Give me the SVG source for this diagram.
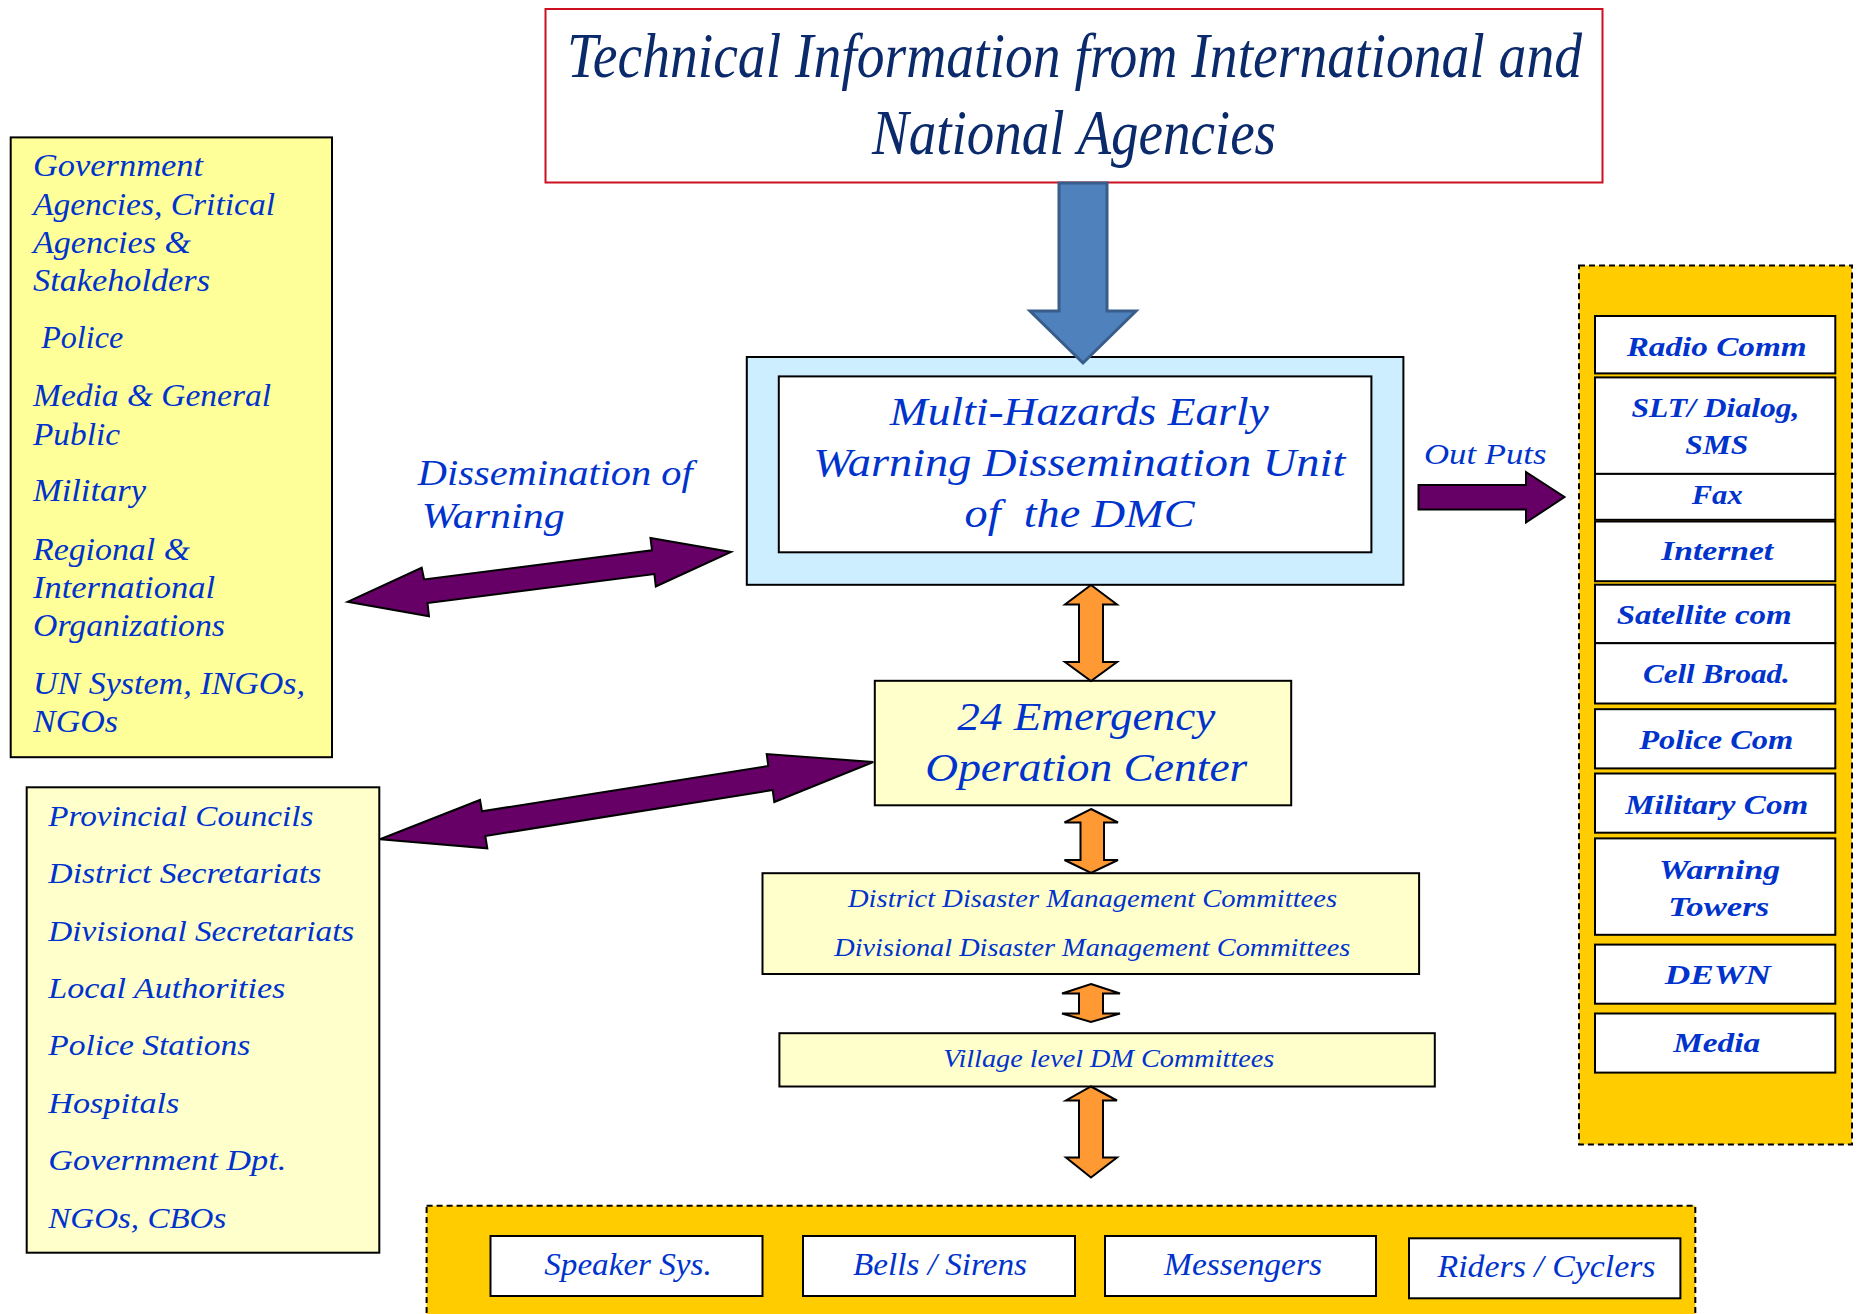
<svg xmlns="http://www.w3.org/2000/svg" width="1860" height="1314" viewBox="0 0 1860 1314">
<style>
.t{font-family:"Liberation Serif","Times New Roman",serif;font-style:italic;fill:#0033cc}
.title{font-family:"Liberation Serif","Times New Roman",serif;font-style:italic;fill:#0b2a6b;font-size:64px}
.bx{stroke:#000;stroke-width:2}
.pl{fill:#ffffcc}
.wh{fill:#fff}
.pur{fill:#660066;stroke:#000;stroke-width:2;stroke-linejoin:miter}
.org{fill:#ff9933;stroke:#000;stroke-width:2}
.dash{fill:#ffcc00;stroke:#000;stroke-width:2;stroke-dasharray:6 4}
.c{text-anchor:middle}
.b{font-weight:bold}
.pre{white-space:pre}
</style>
<rect width="1860" height="1314" fill="#fff"/>

<g id="title">
<rect x="545.5" y="9" width="1057" height="173.5" fill="#fff" stroke="#cc1020" stroke-width="2"/>
<text class="title c" x="1074.5" y="77" textLength="1015" lengthAdjust="spacingAndGlyphs">Technical Information from International and</text>
<text class="title c" x="1074" y="154" textLength="404" lengthAdjust="spacingAndGlyphs">National Agencies</text>
</g>

<g id="stakeholders">
<rect class="bx" x="10.7" y="137.4" width="321.3" height="619.8" fill="#ffff99"/>
<g class="t" font-size="31">
<text x="33" y="176" textLength="170" lengthAdjust="spacingAndGlyphs">Government</text>
<text x="33" y="214.5" textLength="242" lengthAdjust="spacingAndGlyphs">Agencies, Critical</text>
<text x="33" y="252.7" textLength="158" lengthAdjust="spacingAndGlyphs">Agencies &amp;</text>
<text x="33" y="291.2" textLength="177" lengthAdjust="spacingAndGlyphs">Stakeholders</text>
<text x="41.2" y="348" textLength="82" lengthAdjust="spacingAndGlyphs">Police</text>
<text x="33" y="406" textLength="238" lengthAdjust="spacingAndGlyphs">Media &amp; General</text>
<text x="33" y="444.6" textLength="87" lengthAdjust="spacingAndGlyphs">Public</text>
<text x="33" y="501.4" textLength="113" lengthAdjust="spacingAndGlyphs">Military</text>
<text x="33" y="559.5" textLength="157" lengthAdjust="spacingAndGlyphs">Regional &amp;</text>
<text x="33" y="598" textLength="182" lengthAdjust="spacingAndGlyphs">International</text>
<text x="33" y="636.2" textLength="192" lengthAdjust="spacingAndGlyphs">Organizations</text>
<text x="33" y="694.2" textLength="272" lengthAdjust="spacingAndGlyphs">UN System, INGOs,</text>
<text x="33" y="731.5" textLength="85" lengthAdjust="spacingAndGlyphs">NGOs</text>
</g>
</g>

<g id="dissemination-label">
<text class="t" font-size="35" x="417.8" y="484.8" textLength="275" lengthAdjust="spacingAndGlyphs">Dissemination of</text>
<text class="t" font-size="35" x="421.7" y="528.4" textLength="143" lengthAdjust="spacingAndGlyphs">Warning</text>
</g>

<g id="dmc-unit">
<rect class="bx" x="746.8" y="357" width="656.6" height="227.8" fill="#cceeff"/>
<rect class="bx wh" x="778.8" y="376.4" width="592.6" height="175.9"/>
<g class="t c" font-size="40">
<text x="1079.3" y="424.8" textLength="379" lengthAdjust="spacingAndGlyphs">Multi-Hazards Early</text>
<text x="1079.3" y="475.7" textLength="532" lengthAdjust="spacingAndGlyphs">Warning Dissemination Unit</text>
<text class="pre" x="1079.6" y="526.6" textLength="230" lengthAdjust="spacingAndGlyphs">of  the DMC</text>
</g>
</g>

<g id="outputs-label">
<text class="t" font-size="30" x="1424" y="463.6" textLength="122.5" lengthAdjust="spacingAndGlyphs">Out Puts</text>
</g>

<g id="outputs">
<rect class="dash" x="1579" y="265.5" width="273" height="878.9"/>
<g class="bx wh">
<rect x="1595" y="316" width="240.3" height="57.4"/>
<rect x="1595" y="377.4" width="240.3" height="96.5"/>
<rect x="1595" y="473.9" width="240.3" height="45.9"/>
<rect x="1595" y="521.5" width="240.3" height="59.7"/>
<rect x="1595" y="584.7" width="240.3" height="58.5"/>
<rect x="1595" y="643.2" width="240.3" height="60.3"/>
<rect x="1595" y="709.2" width="240.3" height="59.2"/>
<rect x="1595" y="773.5" width="240.3" height="59.2"/>
<rect x="1595" y="838.4" width="240.3" height="96.4"/>
<rect x="1595" y="944.6" width="240.3" height="59.1"/>
<rect x="1595" y="1013.5" width="240.3" height="59.1"/>
</g>
<g class="t b c" font-size="28">
<text x="1716.7" y="356.2" textLength="180" lengthAdjust="spacingAndGlyphs">Radio Comm</text>
<text x="1715.5" y="416.5" textLength="168" lengthAdjust="spacingAndGlyphs">SLT/ Dialog,</text>
<text x="1716.7" y="453.8" textLength="63" lengthAdjust="spacingAndGlyphs">SMS</text>
<text x="1717.2" y="504.3" textLength="51" lengthAdjust="spacingAndGlyphs">Fax</text>
<text x="1717.2" y="560" textLength="112" lengthAdjust="spacingAndGlyphs">Internet</text>
<text x="1704.2" y="624.3" textLength="175" lengthAdjust="spacingAndGlyphs">Satellite com</text>
<text x="1716.4" y="683.4" textLength="147" lengthAdjust="spacingAndGlyphs">Cell Broad.</text>
<text x="1716.3" y="749.4" textLength="154" lengthAdjust="spacingAndGlyphs">Police Com</text>
<text x="1716.7" y="814.3" textLength="183" lengthAdjust="spacingAndGlyphs">Military Com</text>
<text x="1719.5" y="878.6" textLength="121" lengthAdjust="spacingAndGlyphs">Warning</text>
<text x="1718.8" y="915.9" textLength="101" lengthAdjust="spacingAndGlyphs">Towers</text>
<text x="1717.8" y="983.6" textLength="106" lengthAdjust="spacingAndGlyphs">DEWN</text>
<text x="1716.7" y="1052" textLength="87" lengthAdjust="spacingAndGlyphs">Media</text>
</g>
</g>

<g id="eoc">
<rect class="bx pl" x="874.8" y="680.8" width="416.4" height="124.5"/>
<g class="t c" font-size="40">
<text x="1086.3" y="730" textLength="258" lengthAdjust="spacingAndGlyphs">24 Emergency</text>
<text x="1086.3" y="781" textLength="322" lengthAdjust="spacingAndGlyphs">Operation Center</text>
</g>
</g>

<g id="local-agencies">
<rect class="bx pl" x="26.7" y="787.3" width="352.6" height="465.4"/>
<g class="t" font-size="30">
<text x="48.3" y="826" textLength="265" lengthAdjust="spacingAndGlyphs">Provincial Councils</text>
<text x="48.3" y="882.7" textLength="273" lengthAdjust="spacingAndGlyphs">District Secretariats</text>
<text x="48.3" y="940.7" textLength="306" lengthAdjust="spacingAndGlyphs">Divisional Secretariats</text>
<text x="48.3" y="998.3" textLength="237" lengthAdjust="spacingAndGlyphs">Local Authorities</text>
<text x="48.3" y="1055" textLength="202" lengthAdjust="spacingAndGlyphs">Police Stations</text>
<text x="48.3" y="1113.3" textLength="131" lengthAdjust="spacingAndGlyphs">Hospitals</text>
<text x="48.3" y="1170" textLength="238" lengthAdjust="spacingAndGlyphs">Government Dpt.</text>
<text x="48.3" y="1228.3" textLength="178" lengthAdjust="spacingAndGlyphs">NGOs, CBOs</text>
</g>
</g>

<g id="dm-committees">
<rect class="bx pl" x="762.5" y="873.2" width="656.6" height="100.8"/>
<g class="t c" font-size="25">
<text x="1092.5" y="907" textLength="489" lengthAdjust="spacingAndGlyphs">District Disaster Management Committees</text>
<text x="1092.3" y="955.6" textLength="516" lengthAdjust="spacingAndGlyphs">Divisional Disaster Management Committees</text>
</g>
</g>

<g id="village">
<rect class="bx pl" x="779.4" y="1033.2" width="655.4" height="53.3"/>
<text class="t c" font-size="25" x="1108.8" y="1067" textLength="331" lengthAdjust="spacingAndGlyphs">Village level DM Committees</text>
</g>

<g id="community">
<rect class="dash" x="426.6" y="1205.7" width="1268.7" height="120"/>
<g class="bx wh" stroke-width="2.5">
<rect x="490.5" y="1236" width="272" height="60"/>
<rect x="803" y="1236" width="272" height="60"/>
<rect x="1105" y="1236" width="271" height="60"/>
<rect x="1409" y="1238.3" width="271.4" height="60"/>
</g>
<g class="t c" font-size="31">
<text x="628" y="1275" textLength="167.5" lengthAdjust="spacingAndGlyphs">Speaker Sys.</text>
<text x="940" y="1275" textLength="174" lengthAdjust="spacingAndGlyphs">Bells / Sirens</text>
<text x="1243" y="1275" textLength="158" lengthAdjust="spacingAndGlyphs">Messengers</text>
<text x="1546.5" y="1277" textLength="218" lengthAdjust="spacingAndGlyphs">Riders / Cyclers</text>
</g>
</g>

<g id="connectors">
<polygon points="1059,183 1107,183 1107,311 1136,311 1083,363 1030,311 1059,311" fill="#4f81bd" stroke="#385d8a" stroke-width="3"/>
<polygon class="pur" points="347.6,601.8 421.7,567.8 424.1,579.4 652,550.3 650.5,537.9 731,552 655.8,586.4 654.4,574 427.5,603 429,616.3"/>
<polygon class="pur" points="380,839.3 480,800 482,811.3 768.3,766 766.7,754 873.3,762 774.3,802 772.7,790 485.3,836 487.3,848.3"/>
<polygon class="pur" points="1418.5,485 1526,485 1526,472 1564.5,497 1526,522.5 1526,509.5 1418.5,509.5"/>
<polygon class="org" points="1091,585 1117,604.5 1103,604.5 1103,662 1117,662 1091,681 1065,662 1079,662 1079,604.5 1065,604.5"/>
<polygon class="org" points="1091,809 1118,822.5 1104,822.5 1104,860 1118,860 1091,873 1064.5,860 1080.5,860 1080.5,822.5 1064.5,822.5"/>
<polygon class="org" points="1091,984 1120,993.5 1103,993.5 1103,1013.5 1120,1013.5 1091,1022 1062,1013.5 1079,1013.5 1079,993.5 1062,993.5"/>
<polygon class="org" points="1091,1086.5 1117,1100.5 1103,1100.5 1103,1157.5 1117,1157.5 1091,1177.5 1066,1157.5 1079,1157.5 1079,1100.5 1066,1100.5"/>
</g>
</svg>
